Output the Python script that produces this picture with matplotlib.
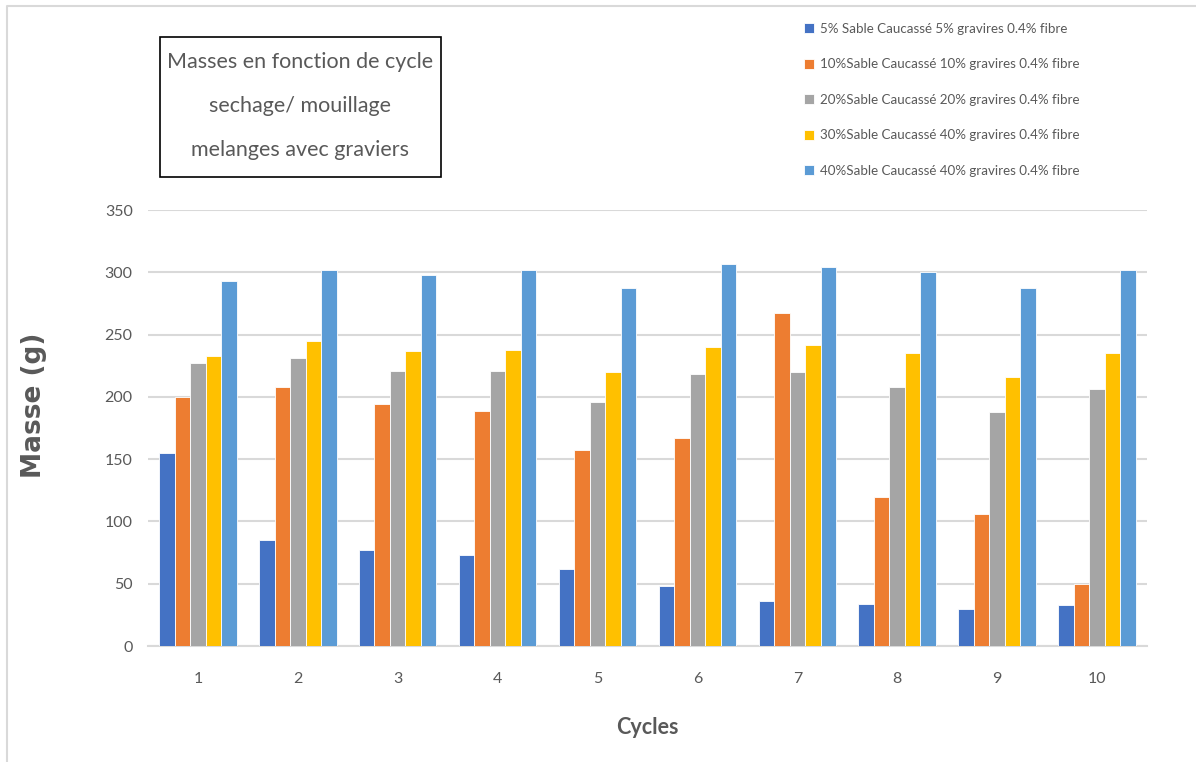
import numpy as np
import matplotlib
matplotlib.use("Agg")
import matplotlib.pyplot as plt
from matplotlib.lines import Line2D
from matplotlib.patches import Rectangle

# masses (g) per cycle for each mix
cycles = [1, 2, 3, 4, 5, 6, 7, 8, 9, 10]
labels = [
    "5% Sable Caucassé 5% gravires 0.4% fibre",
    "10%Sable Caucassé 10% gravires 0.4% fibre",
    "20%Sable Caucassé 20% gravires 0.4% fibre",
    "30%Sable Caucassé 40% gravires 0.4% fibre",
    "40%Sable Caucassé 40% gravires 0.4% fibre",
]
m5 = [155, 85, 77, 73, 62, 48, 36, 34, 30, 33]
m10 = [200, 208, 194, 189, 157, 167, 267, 120, 106, 50]
m20 = [227, 231, 221, 221, 196, 218, 220, 208, 188, 206]
m30 = [233, 245, 237, 238, 220, 240, 242, 235, 216, 235]
m40 = [293, 302, 298, 302, 287, 307, 304, 300, 287, 302]
colors = ["#4472c4", "#ed7d31", "#a5a5a5", "#ffc000", "#5b9bd5"]

plt.rcParams["font.family"] = ["Lato", "DejaVu Sans"]
txt = "#595959"

fig = plt.figure(figsize=(11.96, 7.62), dpi=100)
ax = fig.add_axes([0.1237, 0.1522, 0.8353, 0.5722])

series = [m5, m10, m20, m30, m40]
x = np.array(cycles)
w = 0.155
for i, (vals, c) in enumerate(zip(series, colors)):
    ax.bar(x + (i - 2) * w, vals, width=w, color=c, edgecolor="white",
           linewidth=0.6, label=labels[i], zorder=3)

ax.set_xlim(0.5, 10.5)
ax.set_ylim(0, 350)
ax.set_yticks(range(0, 351, 50))
ax.set_xticks(cycles)
ax.grid(axis="y", color="#d9d9d9", linewidth=1.5, zorder=0)
for s in ["top", "right", "left"]:
    ax.spines[s].set_visible(False)
ax.spines["bottom"].set_color("#d9d9d9")
ax.spines["bottom"].set_linewidth(1.5)
ax.tick_params(length=0, labelsize=11.5, labelcolor=txt)
ax.tick_params(axis="y", pad=11)
ax.tick_params(axis="x", pad=19)

ax.set_xlabel("Cycles", fontsize=15.5, fontweight="bold", color=txt, labelpad=22)
fig.text(0.0284, 1 - 405 / 762, "Masse (g)", rotation=90, fontsize=19,
         fontweight="bold", color=txt, family="DejaVu Sans",
         ha="center", va="center")

# boxed title
fig.patches.append(Rectangle((160 / 1196, 1 - 177 / 762), 281 / 1196, 140 / 762,
                             transform=fig.transFigure, fill=False,
                             edgecolor="black", linewidth=1.2))
fig.text(300 / 1196, 1 - 106 / 762,
         "Masses en fonction de cycle\nsechage/ mouillage\nmelanges avec graviers",
         ha="center", va="center", fontsize=15.5, color=txt, linespacing=2.5)

ax.legend(loc="upper left", bbox_to_anchor=(792 / 1196, 1 - 11 / 762),
          bbox_transform=fig.transFigure, frameon=False, fontsize=9.6,
          labelcolor=txt, handlelength=0.75, handleheight=0.75,
          handletextpad=0.45, labelspacing=1.76)

# chart area border
fig.add_artist(Line2D([7 / 1196, 7 / 1196, 1], [0, 1 - 6 / 762, 1 - 6 / 762],
                      transform=fig.transFigure, color="#d9d9d9", linewidth=1.5))

fig.savefig("out.png", dpi=100)
